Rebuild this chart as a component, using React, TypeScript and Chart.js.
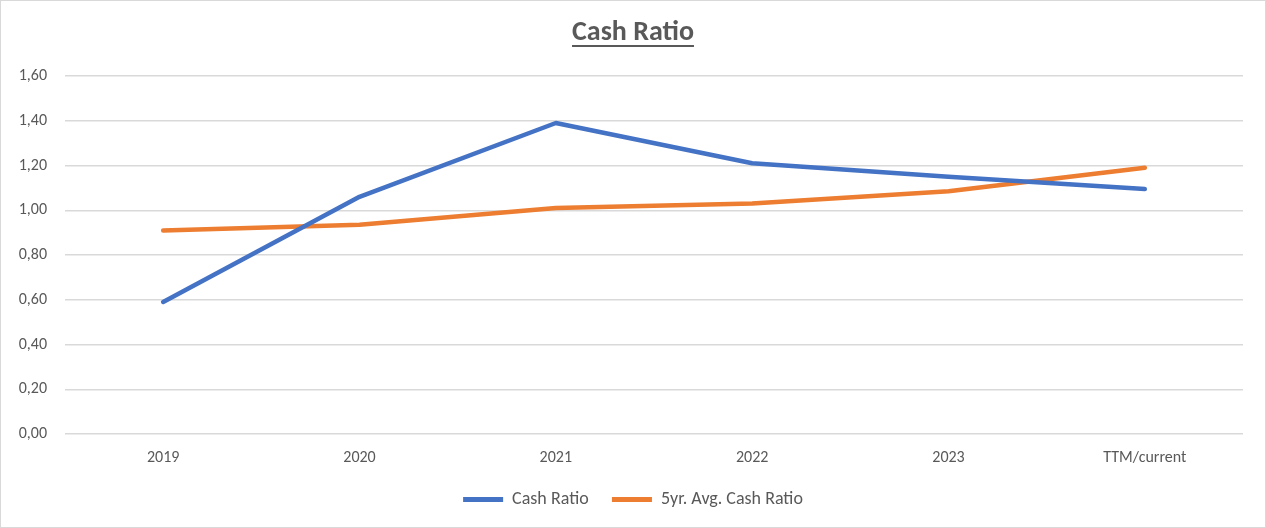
import React, { useEffect, useRef } from "react";
import { Chart, registerables } from "chart.js";

Chart.register(...registerables);

const categories = ["2019", "2020", "2021", "2022", "2023", "TTM/current"];
const cashRatio = [0.59, 1.06, 1.39, 1.21, 1.15, 1.095];
const avgCashRatio = [0.91, 0.935, 1.01, 1.03, 1.085, 1.19];
const yTicks = { min: 0, max: 1.6, step: 0.2 };

const FONT = "Carlito, Calibri, Lato, 'Open Sans', sans-serif";
const TEXT = "#595959";

const underlinePlugin = {
  id: "titleUnderline",
  afterDraw(chart: any) {
    const t = chart.titleBlock;
    if (!t || !t.options.display) return;
    const ctx = chart.ctx;
    ctx.save();
    const f = t.options.font;
    ctx.font = `bold ${f.size}px ${f.family}`;
    const w = ctx.measureText(t.options.text).width;
    const x = (t.left + t.right) / 2;
    const y = t.top + t.options.padding.top + (f.size * 1.2) / 2 + f.size * 0.45;
    ctx.strokeStyle = TEXT;
    ctx.lineWidth = 2;
    ctx.beginPath();
    ctx.moveTo(x - w / 2, y);
    ctx.lineTo(x + w / 2, y);
    ctx.stroke();
    ctx.restore();
  },
};

export default function App() {
  const ref = useRef<HTMLCanvasElement>(null);
  useEffect(() => {
    document.body.style.margin = "0";
    const chart = new Chart(ref.current!, {
      type: "line",
      data: {
        labels: categories,
        datasets: [
          {
            label: "Cash Ratio",
            data: cashRatio,
            borderColor: "#4472C4",
            backgroundColor: "#4472C4",
            borderWidth: 4.5,
            pointRadius: 0,
            tension: 0,
            borderCapStyle: "round",
            borderJoinStyle: "round",
          },
          {
            label: "5yr. Avg. Cash Ratio",
            data: avgCashRatio,
            borderColor: "#ED7D31",
            backgroundColor: "#ED7D31",
            borderWidth: 4.5,
            pointRadius: 0,
            tension: 0,
            borderCapStyle: "round",
            borderJoinStyle: "round",
          },
        ],
      },
      options: {
        animation: false,
        responsive: false,
        maintainAspectRatio: false,
        layout: { padding: { left: 0, right: 0, top: 0, bottom: 8.5 } },
        plugins: {
          title: {
            display: true,
            text: "Cash Ratio",
            color: TEXT,
            font: { family: FONT, size: 28, weight: "bold" },
            padding: { top: 15.5, bottom: 25.9 },
          },
          legend: {
            position: "bottom",
            labels: {
              color: TEXT,
              font: { family: FONT, size: 18 },
              boxWidth: 40,
              boxHeight: 5,
              padding: 23.3,
              generateLabels(chart: any) {
                return chart.data.datasets.map((d: any, i: number) => ({
                  text: d.label,
                  fillStyle: d.borderColor,
                  strokeStyle: d.borderColor,
                  lineWidth: 0,
                  fontColor: TEXT,
                  datasetIndex: i,
                  hidden: false,
                }));
              },
            },
          },
          tooltip: { enabled: false },
        },
        scales: {
          x: {
            offset: true,
            grid: { display: false, drawTicks: false, tickLength: 0 },
            border: { display: false },
            ticks: { color: TEXT, font: { family: FONT, size: 16 }, padding: 14 },
            afterFit(scale: any) {
              scale.height = 33.2;
            },
          },
          y: {
            min: yTicks.min,
            max: yTicks.max,
            border: { display: false },
            grid: { color: "#D9D9D9", lineWidth: 1.5, drawTicks: false },
            ticks: {
              stepSize: yTicks.step,
              color: TEXT,
              font: { family: FONT, size: 16 },
              padding: 18,
              callback: (v: any) => Number(v).toFixed(2).replace(".", ","),
            },
            afterFit(scale: any) {
              scale.width = 64;
            },
          },
          yRightSpace: {
            position: "right",
            display: true,
            grid: { display: false, drawTicks: false },
            border: { display: false },
            ticks: { display: false },
            afterFit(scale: any) {
              scale.width = 22;
            },
          },
        },
      },
      plugins: [underlinePlugin],
    });
    return () => chart.destroy();
  }, []);
  return (
    <div
      style={{
        position: "absolute",
        left: 0,
        top: 0,
        width: 1266,
        height: 528,
        boxSizing: "border-box",
        border: "1px solid #D9D9D9",
        background: "#fff",
      }}
    >
      <canvas ref={ref} width={1264} height={526} style={{ display: "block" }} />
    </div>
  );
}
